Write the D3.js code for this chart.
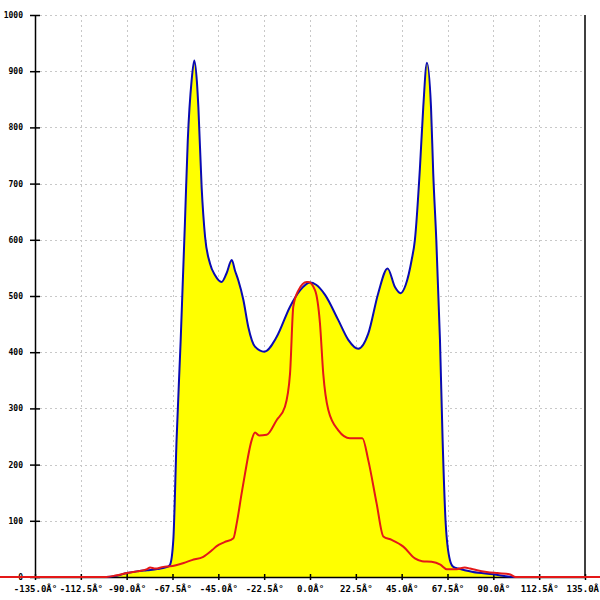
<!DOCTYPE html>
<html><head><meta charset="utf-8">
<script src="https://cdn.jsdelivr.net/npm/d3@7"></script>
<style>body{margin:0;background:#fff}svg{display:block}</style>
</head><body>
<svg id="c" width="600" height="600"></svg>
<script>
// angle (deg) , value
const blueAngles = [-180,-100,-95,-90,-85,-80,-75,-70,-68.7,-67.1,-65.5,-63.5,-62.5,-61.4,-60,-58.1,-56.8,-55.5,-54.8,-53.2,-51.5,-49.1,-46.6,-43.4,-41,-38.4,-36.8,-35.2,-32.7,-30.3,-27,-22.4,-16.4,-9.8,-4.9,0,3,7.4,13.9,18.8,23.7,28.6,33.5,38.1,41.7,44.5,47,49.9,51.5,54,55.6,57.4,59.4,60.5,62,63.8,65.1,66.6,68.7,70.4,72.8,80,90,100,180];
const blueValues = [0,0,2,7,10,12,14,18,22,66,244,420,520,630,777,884,919,880,836,694,605,558,537,525,540,564,545,528,493,445,410,401,427,481,510,524,520,502,457,422,406,433,505,549,516,505,520,564,600,730,836,915,836,718,600,422,244,96,30,18,15,9,5,0,0];
const redAngles = [-180,-100,-95,-90,-85,-80,-78.5,-76,-72,-68.7,-62,-58,-52.4,-48,-45.8,-42,-37.6,-36,-33.5,-31.9,-28.6,-27,-25,-21.3,-16.4,-12.3,-9.8,-8.2,-5.7,-1.6,-0.8,2.5,4.9,6.5,9,13.9,19.6,25.7,28.6,32.7,36,40.1,45.8,51.5,55,59.7,64,67.1,72,76,78.5,82,86.7,92,98,101,180];
const redValues = [0,0,3,7,10,14,17,15,18,19,25,30,36,48,55,62,69,95,150,184,244,257,252,253,279,303,362,481,510,525,525,510,451,362,297,261,247,247,208,131,72,66,54,33,28,27,22,14,14,17,15,12,9,7,5,0,0];
const xTicks = [-135,-112.5,-90,-67.5,-45,-22.5,0,22.5,45,67.5,90,112.5,135];
const xTickLabels = ["-135.0Â°","-112.5Â°","-90.0Â°","-67.5Â°","-45.0Â°","-22.5Â°","0.0Â°","22.5Â°","45.0Â°","67.5Â°","90.0Â°","112.5Â°","135.0Â°"];
const yTicks = [0,100,200,300,400,500,600,700,800,900,1000];
const yTickLabels = ["0","100","200","300","400","500","600","700","800","900","1000"];

const svg = d3.select("#c");
const x = d3.scaleLinear().domain([-135,135]).range([35,585]);
const y = d3.scaleLinear().domain([0,1000]).range([577,15]);
const blue = blueAngles.map((a,i)=>[a,blueValues[i]]);
const red = redAngles.map((a,i)=>[a,redValues[i]]);

// grid
const grid = svg.append("g").attr("stroke","#c8c8c8").attr("stroke-dasharray","2,3").attr("stroke-width",1);
xTicks.slice(1,-1).forEach(t=>grid.append("line").attr("x1",Math.round(x(t))+0.5).attr("x2",Math.round(x(t))+0.5).attr("y1",15).attr("y2",577));
yTicks.slice(1).forEach(t=>grid.append("line").attr("x1",35).attr("x2",585).attr("y1",Math.round(y(t))+0.5).attr("y2",Math.round(y(t))+0.5));

// area
svg.append("path").datum(blue)
  .attr("fill","#ffff00")
  .attr("d", d3.area().x(d=>x(d[0])).y0(y(0)).y1(d=>y(d[1])).curve(d3.curveMonotoneX));

// axes
const xAxis = svg.append("g").attr("transform","translate(0,577)")
  .call(d3.axisBottom(x).tickValues(xTicks).tickFormat((d,i)=>xTickLabels[i]).tickSizeInner(4).tickSizeOuter(0).tickPadding(5));
const yAxis = svg.append("g").attr("transform","translate(35,0)")
  .call(d3.axisLeft(y).tickValues(yTicks).tickFormat((d,i)=>yTickLabels[i]).tickSizeInner(5).tickSizeOuter(0).tickPadding(7));
[xAxis,yAxis].forEach(g=>{
  g.select(".domain").attr("stroke","#000").attr("stroke-width",1.5);
  g.selectAll(".tick line").attr("stroke","#000").attr("stroke-width",1.5);
  g.selectAll("text").attr("fill","#000").attr("font-family","DejaVu Sans Mono").attr("font-weight","bold");
});
xAxis.selectAll("text").attr("font-size","9px");
yAxis.selectAll("text").attr("font-size","8px");
yAxis.selectAll(".tick line").attr("x2",5).attr("x1",-5);
xAxis.selectAll(".tick line").attr("y1",-3).attr("y2",3);
// right border
svg.append("line").attr("x1",x(135)).attr("x2",x(135)).attr("y1",15).attr("y2",577).attr("stroke","#000").attr("stroke-width",1.5);

// lines
const line = d3.line().x(d=>x(d[0])).y(d=>y(d[1])).curve(d3.curveMonotoneX);
svg.append("path").datum(blue).attr("fill","none").attr("stroke","#0a0ab4").attr("stroke-width",2).attr("d",line);
svg.append("path").datum(red).attr("fill","none").attr("stroke","#e41818").attr("stroke-width",2).attr("d",line);
</script>
</body></html>
